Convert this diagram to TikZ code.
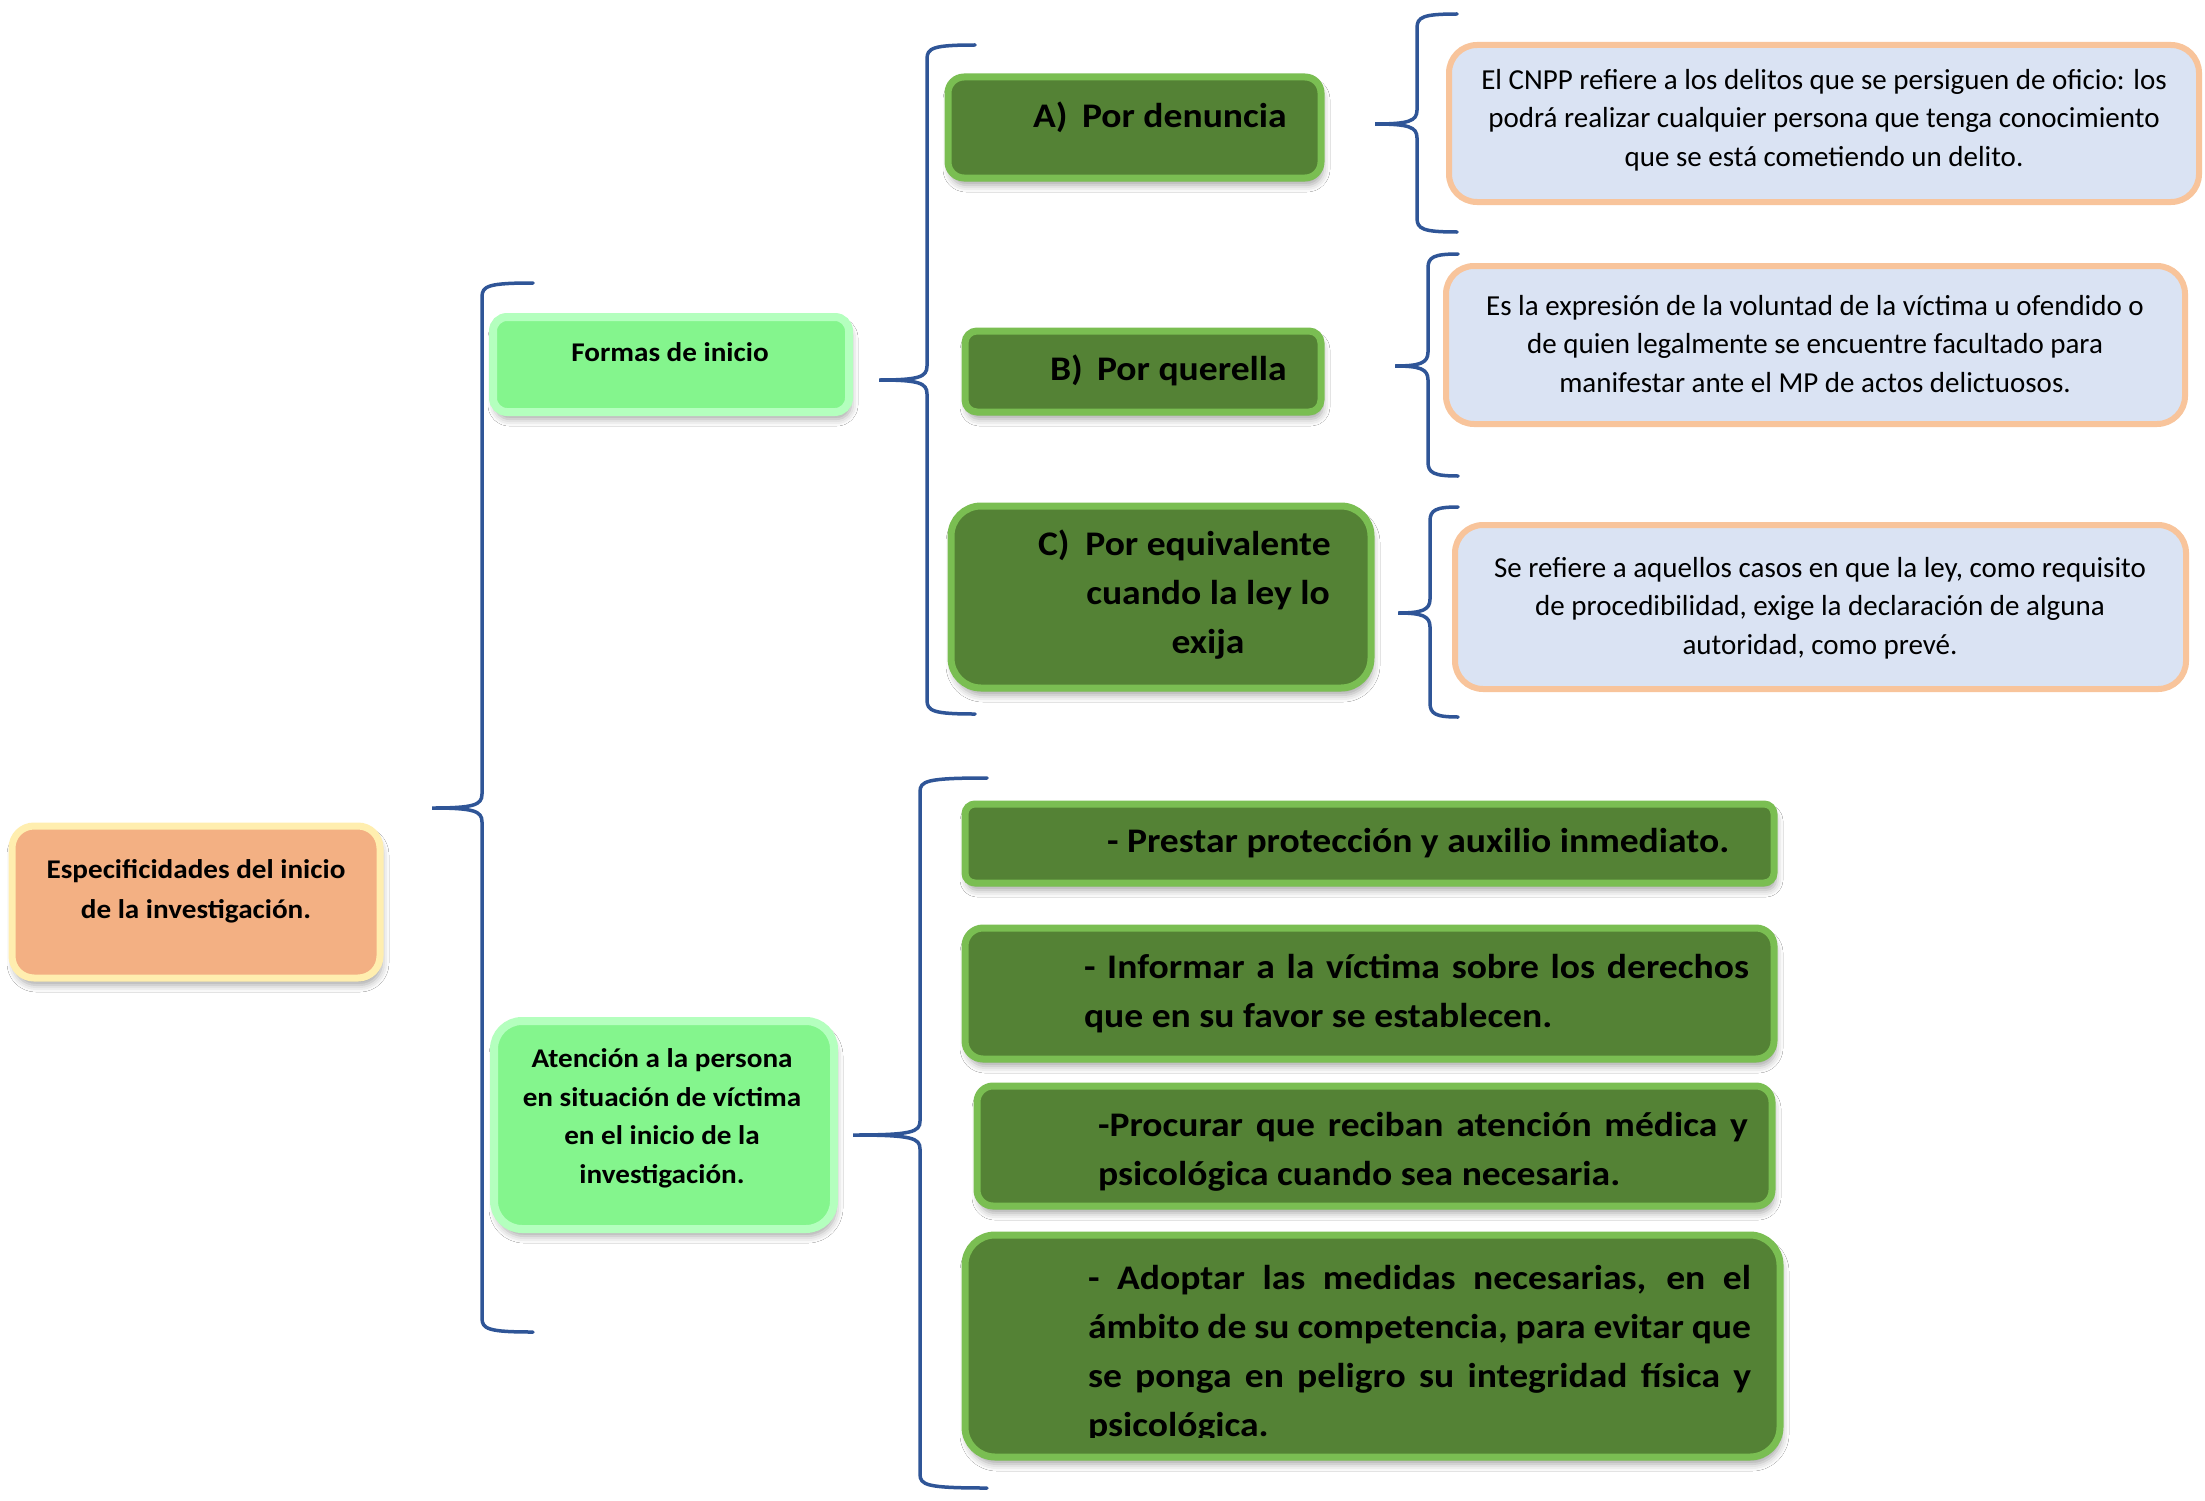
\documentclass[tikz,border=0pt]{standalone}
\usepackage{fontspec}
\setmainfont{Carlito}
\newfontfamily\gwide[FakeStretch=1.09]{Carlito}
\newfontfamily\lwide[FakeStretch=1.08]{Carlito}
\usetikzlibrary{shadows.blur}
\definecolor{dkgreen}{RGB}{84,130,53}
\definecolor{grborder}{RGB}{122,190,82}
\definecolor{ltgreen}{RGB}{132,245,141}
\definecolor{ltglow}{RGB}{180,255,190}
\definecolor{salmon}{RGB}{243,176,131}
\definecolor{paleyel}{RGB}{255,238,175}
\definecolor{paleblue}{RGB}{218,227,243}
\definecolor{orglow}{RGB}{248,196,155}
\definecolor{bracecol}{RGB}{47,85,151}
\tikzset{
  shad/.style={blur shadow={shadow xshift=2pt, shadow yshift=-7pt, shadow blur radius=7pt, shadow opacity=35}},
  gbox/.style={rectangle, draw=grborder, line width=7pt, fill=dkgreen, inner sep=0pt, shad},
  lgbox/.style={rectangle, draw=ltglow, line width=8pt, fill=ltgreen, inner sep=0pt, shad},
  rootbox/.style={rectangle, draw=paleyel, line width=7pt, fill=salmon, inner sep=0pt, shad},
  bbox/.style={rectangle, draw=orglow, line width=6pt, fill=paleblue, inner sep=0pt},
  gtext/.style={inner sep=0pt, outer sep=0pt, font=\gwide\bfseries\fontsize{34.5}{49}\selectfont},
  ltext/.style={inner sep=0pt, outer sep=0pt, align=center, font=\lwide\bfseries\fontsize{27}{38.5}\selectfont},
  btext/.style={inner sep=0pt, outer sep=0pt, align=center, font=\fontsize{29}{38.5}\selectfont},
  bracestyle/.style={draw=bracecol, line width=3.5pt, line cap=round}
}
\newcommand\wordbrace[6]{% xv, top, bottom, tipx, tipy, armx
  \draw[bracestyle] (#6,#2) .. controls ({#1+6},#2) and (#1,{#2+3}) .. (#1,{#2+14})
    -- (#1,{#5-14}) .. controls (#1,{#5-3}) and ({#1-8},#5) .. (#4,#5)
    .. controls ({#1-8},#5) and (#1,{#5+3}) .. (#1,{#5+14})
    -- (#1,{#3-14}) .. controls (#1,{#3-3}) and ({#1+6},#3) .. (#6,#3);}
\begin{document}
\begin{tikzpicture}[x=1pt,y=-1pt]
\fill[white] (0,0) rectangle (2205,1501);
\useasboundingbox (0,0) rectangle (2205,1501);

% root
\node[rootbox, rounded corners=22pt, minimum width=368pt, minimum height=152pt] (root) at (196,902) {};
\node[ltext, anchor=base, font=\lwide\bfseries\fontsize{27}{40}\selectfont] (rootT) at (196,918) {Especificidades del inicio\\de la investigaci\'on.};

% level 1
\node[lgbox, rounded corners=14pt, minimum width=356pt, minimum height=95pt] (formas) at (671,364.5) {};
\node[ltext, anchor=base] (formasT) at (670,361) {Formas de inicio};
\node[lgbox, rounded corners=28pt, minimum width=340pt, minimum height=208pt] (aten) at (664,1125) {};
\node[ltext, anchor=base] (atenT) at (662,1183) {Atención a la persona\\en situación de víctima\\en el inicio de la\\investigación.};

% A B C
\node[gbox, rounded corners=16pt, minimum width=373pt, minimum height=101pt] (A) at (1134.5,127.5) {};
\node[gtext, anchor=base west] (AT) at (1033,128) {\makebox[49pt][l]{A)}Por denuncia};
\node[gbox, rounded corners=12pt, minimum width=356pt, minimum height=81pt] (B) at (1143,371.5) {};
\node[gtext, anchor=base west] (BT) at (1050,380) {\makebox[47pt][l]{B)}Por querella};
\node[gbox, rounded corners=30pt, minimum width=420pt, minimum height=182pt] (C) at (1161,597) {};
\node[gtext, anchor=base west] (CL) at (1038,555) {C)};
\node[gtext, anchor=base, align=center] (CT) at (1208,653) {Por equivalente\\cuando la ley lo\\exija};

% descriptions
\node[bbox, rounded corners=28pt, minimum width=750pt, minimum height=157pt] (D1) at (1824,123.5) {};
\node[btext, anchor=base] (D1T) at (1824,166) {El CNPP refiere a los delitos que se persiguen de oficio: los\\podrá realizar cualquier persona que tenga conocimiento\\que se está cometiendo un delito.};
\node[bbox, rounded corners=28pt, minimum width=739pt, minimum height=158pt] (D2) at (1815.5,345) {};
\node[btext, anchor=base] (D2T) at (1815,392) {Es la expresión de la voluntad de la víctima u ofendido o\\de quien legalmente se encuentre facultado para\\manifestar ante el MP de actos delictuosos.};
\node[bbox, rounded corners=28pt, minimum width=731pt, minimum height=164pt] (D3) at (1820.5,607) {};
\node[btext, anchor=base] (D3T) at (1820,654) {Se refiere a aquellos casos en que la ley, como requisito\\de procedibilidad, exige la declaración de alguna\\autoridad, como prevé.};

% list
\node[gbox, rounded corners=10pt, minimum width=809pt, minimum height=79pt] (L1) at (1369.5,843.5) {};
\node[gtext, anchor=base west] (L1T) at (1107,852) {- Prestar protección y auxilio inmediato.};
\node[gbox, rounded corners=18pt, minimum width=809pt, minimum height=131pt] (L2) at (1369.5,993.5) {};
\node[gtext, anchor=base west, text width=665pt, align=justify] (L2T) at (1084,978) {- Informar a la víctima sobre los derechos\linebreak que en su favor se establecen.};
\node[gbox, rounded corners=16pt, minimum width=795pt, minimum height=120pt] (L3) at (1374.5,1146) {};
\node[gtext, anchor=base west, text width=650pt, align=justify] (L3T) at (1098,1136) {-Procurar que reciban atención médica y\linebreak psicológica cuando sea necesaria.};
\node[gbox, rounded corners=30pt, minimum width=815pt, minimum height=222pt] (L4) at (1372.5,1346) {};
\begin{scope}
\clip (960,1230) rectangle (1790,1437);
\node[gtext, anchor=base west, text width=663pt, align=justify] (L4T) at (1088,1289) {- Adoptar las medidas necesarias, en el\linebreak ámbito de su competencia, para evitar que\linebreak se ponga en peligro su integridad física y\linebreak psicológica.};
\end{scope}

% braces
\wordbrace{482}{283}{1332}{432}{808}{533}
\wordbrace{927}{45}{714}{879}{380}{975}
\wordbrace{1417}{14}{232}{1375}{124}{1457}
\wordbrace{1428}{254}{476}{1395}{366}{1458}
\wordbrace{1430}{507}{717}{1398}{613}{1458}
\wordbrace{920}{778}{1488}{853}{1135}{987}
\end{tikzpicture}
\end{document}
